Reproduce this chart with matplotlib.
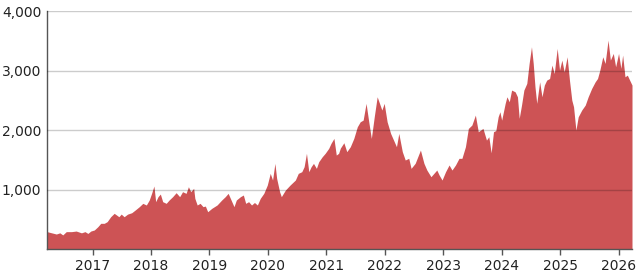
import matplotlib
matplotlib.use("Agg")
import matplotlib.pyplot as plt

# Price history (decimal year, value)
years = [
    2016.22, 2016.30, 2016.38, 2016.44, 2016.49, 2016.55, 2016.64, 2016.72,
    2016.81, 2016.87, 2016.92, 2016.97, 2017.03, 2017.09, 2017.14, 2017.20,
    2017.25, 2017.31, 2017.37, 2017.41, 2017.45, 2017.49, 2017.54, 2017.60,
    2017.67, 2017.73, 2017.80, 2017.86, 2017.92, 2017.97, 2018.01, 2018.05,
    2018.08, 2018.12, 2018.16, 2018.20, 2018.26, 2018.31, 2018.37, 2018.43,
    2018.49, 2018.54, 2018.60, 2018.64, 2018.68, 2018.73, 2018.75, 2018.79,
    2018.84, 2018.89, 2018.93, 2018.97, 2019.04, 2019.13, 2019.21, 2019.27,
    2019.32, 2019.37, 2019.42, 2019.46, 2019.53, 2019.58, 2019.62, 2019.67,
    2019.72, 2019.77, 2019.82, 2019.87, 2019.93, 2019.99, 2020.04, 2020.08,
    2020.12, 2020.15, 2020.20, 2020.23, 2020.30, 2020.38, 2020.47, 2020.52,
    2020.58, 2020.62, 2020.66, 2020.70, 2020.74, 2020.78, 2020.83, 2020.87,
    2020.93, 2020.98, 2021.04, 2021.08, 2021.13, 2021.17, 2021.21, 2021.24,
    2021.30, 2021.35, 2021.41, 2021.47, 2021.53, 2021.58, 2021.63, 2021.68,
    2021.73, 2021.77, 2021.82, 2021.87, 2021.91, 2021.95, 2021.99, 2022.04,
    2022.10, 2022.15, 2022.20, 2022.24, 2022.30, 2022.35, 2022.41, 2022.45,
    2022.52, 2022.61, 2022.67, 2022.72, 2022.79, 2022.84, 2022.89, 2022.93,
    2022.98, 2023.04, 2023.10, 2023.15, 2023.21, 2023.27, 2023.32, 2023.38,
    2023.43, 2023.49, 2023.55, 2023.60, 2023.68, 2023.74, 2023.78, 2023.82,
    2023.86, 2023.90, 2023.94, 2023.97, 2024.00, 2024.06, 2024.09, 2024.13,
    2024.17, 2024.23, 2024.27, 2024.30, 2024.34, 2024.38, 2024.43, 2024.47,
    2024.51, 2024.54, 2024.57, 2024.60, 2024.65, 2024.69, 2024.73, 2024.77,
    2024.82, 2024.86, 2024.90, 2024.95, 2024.99, 2025.03, 2025.07, 2025.12,
    2025.16, 2025.20, 2025.23, 2025.27, 2025.31, 2025.37, 2025.43, 2025.48,
    2025.54, 2025.60, 2025.64, 2025.68, 2025.73, 2025.77, 2025.82, 2025.86,
    2025.91, 2025.95, 2026.00, 2026.04, 2026.07, 2026.11, 2026.15, 2026.19,
    2026.23,
]
prices = [
    295, 275, 255, 275, 240, 295, 295, 305,
    275, 295, 265, 305, 323, 378, 435, 435,
    463, 546, 603, 575, 546, 590, 546, 590,
    613, 659, 715, 771, 743, 827, 939, 1062,
    799, 883, 927, 799, 771, 827, 883, 950,
    883, 967, 939, 1050, 967, 1023, 855, 743,
    771, 715, 725, 630, 687, 743, 827, 883,
    939, 827, 715, 827, 883, 911, 771, 799,
    743, 785, 743, 855, 939, 1079, 1275, 1163,
    1443, 1191, 967, 883, 995, 1079, 1163, 1275,
    1303, 1387, 1612, 1303, 1387, 1443, 1359, 1471,
    1555, 1612, 1695, 1780, 1863, 1583, 1612, 1700,
    1790, 1640, 1723, 1863, 2059, 2143, 2171, 2452,
    2115, 1863, 2227, 2563, 2452, 2340, 2452, 2143,
    1947, 1835, 1723, 1947, 1640, 1500, 1528, 1359,
    1444, 1667, 1444, 1331, 1219, 1275, 1331, 1247,
    1163, 1303, 1416, 1331, 1416, 1528, 1528, 1723,
    2031, 2087, 2255, 1975, 2031, 1835, 1891, 1620,
    1975, 1995, 2227, 2311, 2170, 2452, 2563, 2479,
    2676, 2647, 2563, 2200, 2424, 2676, 2788, 3124,
    3404, 3124, 2731, 2452, 2815, 2563, 2760, 2843,
    2871, 3096, 2955, 3376, 3012, 3180, 2983, 3236,
    2843, 2507, 2396, 2003, 2227, 2340, 2424, 2563,
    2703, 2815, 2871, 3012, 3236, 3124, 3516, 3180,
    3292, 3068, 3292, 3040, 3264, 2899, 2927, 2843,
    2760,
]

year_ticks = [2017, 2018, 2019, 2020, 2021, 2022, 2023, 2024, 2025, 2026]
value_ticks = [1000, 2000, 3000, 4000]

fig = plt.figure(figsize=(6.4, 2.77), dpi=100)
ax = fig.add_axes([0.0734, 0.1004, 0.9141, 0.8586])

ax.fill_between(years, prices, 0, color="#cd5355", linewidth=0, zorder=1)

ax.set_xlim(years[0], years[-1])
ax.set_ylim(0, 4000)
ax.set_xticks(year_ticks)
ax.set_xticklabels([str(y) for y in year_ticks])
ax.set_yticks(value_ticks)
ax.set_yticklabels([f"{v:,}" for v in value_ticks])

# gridlines sit on top of the area, semi transparent
ax.yaxis.grid(True, color="black", alpha=0.2, linewidth=1, zorder=3)
ax.set_axisbelow(False)

for side in ["top", "right"]:
    ax.spines[side].set_visible(False)
for side in ["left", "bottom"]:
    ax.spines[side].set_color("#555555")
    ax.spines[side].set_linewidth(1)

ax.tick_params(axis="x", length=4, width=1, color="#555555", labelsize=10,
               labelcolor="#222222", pad=3)
ax.tick_params(axis="y", length=0, labelsize=10, labelcolor="#222222", pad=4)

fig.savefig("out.png", dpi=100)
